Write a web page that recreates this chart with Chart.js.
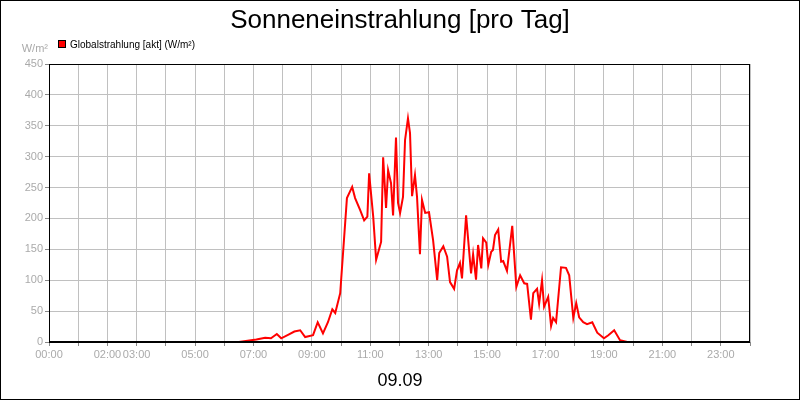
<!DOCTYPE html>
<html><head><meta charset="utf-8">
<script src="https://cdn.jsdelivr.net/npm/chart.js@4"></script>
<style>html,body{margin:0;padding:0;background:#fff}#w{width:800px;height:400px;position:relative;box-sizing:border-box}</style>
</head><body><div id="w"><canvas id="c"></canvas></div>
<script>
const hours = [0,6.5,6.8,7.1,7.4,7.6,7.8,7.95,8.2,8.4,8.6,8.77,9.04,9.2,9.38,9.55,9.7,9.8,9.97,10.2,10.38,10.48,10.65,10.79,10.9,10.96,11.1,11.2,11.37,11.44,11.54,11.61,11.71,11.78,11.88,11.95,12.02,12.12,12.19,12.29,12.36,12.43,12.53,12.6,12.7,12.77,12.88,13.01,13.15,13.29,13.36,13.5,13.63,13.73,13.87,13.97,14.07,14.14,14.28,14.45,14.52,14.62,14.69,14.8,14.86,14.97,15.04,15.14,15.2,15.27,15.38,15.48,15.55,15.68,15.86,16.0,16.13,16.27,16.37,16.5,16.58,16.71,16.78,16.88,16.95,17.09,17.19,17.26,17.36,17.53,17.7,17.81,17.95,18.05,18.15,18.29,18.42,18.6,18.77,19.0,19.15,19.35,19.55,19.8,24];
const values = [0,0,2,4,7,6,13,6,12,17,19,8,11,32,14,32,53,47,79,233,251,233,214,197,203,273,203,133,162,299,217,278,257,205,331,225,209,235,327,362,338,236,270,235,142,230,209,210,165,100,144,155,138,97,86,116,128,103,205,111,142,101,157,119,168,161,125,146,149,173,182,130,131,115,188,89,108,95,94,36,79,86,62,100,57,73,26,39,32,121,120,108,39,63,40,32,29,32,15,6,11,19,3,0,0];
const yTicks = [0,50,100,150,200,250,300,350,400,450];
const xLabelHours = [0,2,3,5,7,9,11,13,15,17,19,21,23];
const titleText = 'Sonneneinstrahlung [pro Tag]';
const seriesName = 'Globalstrahlung [akt] (W/m²)';
const unitText = 'W/m²';
const dateText = '09.09';
const FONT = '"Liberation Sans", Arial, sans-serif';

const deco = {
  id:'deco',
  afterDraw(ch){
    const c=ch.ctx, a=ch.chartArea;
    c.save();
    c.strokeStyle='#000'; c.lineWidth=1;
    c.strokeRect(a.left+0.5,a.top+0.5,a.right-a.left-1,a.bottom-a.top);
    c.lineWidth=2; c.beginPath(); c.moveTo(a.left,a.bottom); c.lineTo(a.right,a.bottom); c.stroke();
    c.lineWidth=1; c.strokeRect(0.5,0.5,799,399);
    c.fillStyle='#000'; c.textAlign='center'; c.textBaseline='alphabetic';
    c.font='26px '+FONT; c.fillText(titleText,400,28);
    c.font='18px '+FONT; c.fillText(dateText,400,386);
    c.fillStyle='#f00'; c.fillRect(58,40,8,8); c.strokeStyle='#000'; c.strokeRect(58.5,40.5,7,7);
    c.fillStyle='#000'; c.textAlign='left'; c.font='10px '+FONT; c.fillText(seriesName,70,48);
    c.fillStyle='#aaa'; c.font='11px '+FONT; c.textAlign='right'; c.fillText(unitText,48,52);
    c.restore();
  }
};

new Chart(document.getElementById('c'),{
  type:'line',
  data:{datasets:[{data:hours.map((h,i)=>({x:h,y:values[i]})),borderColor:'#f00',borderWidth:2,pointRadius:0,tension:0,fill:false}]},
  options:{
    responsive:true,maintainAspectRatio:false,animation:false,
    layout:{padding:{top:64,right:50,left:0,bottom:0}},
    plugins:{legend:{display:false},title:{display:false},tooltip:{enabled:false}},
    scales:{
      x:{type:'linear',min:0,max:24,
        afterBuildTicks(s){s.ticks=[];for(let h=0;h<=24;h++)s.ticks.push({value:h});},
        afterFit(s){s.height=58;},
        grid:{color:'#c0c0c0',tickLength:4,tickColor:'#888'},border:{display:false},
        ticks:{color:'#aaa',font:{family:FONT,size:11},maxRotation:0,autoSkip:false,padding:2,
          callback:v=>xLabelHours.includes(v)?String(v).padStart(2,'0')+':00':''}},
      y:{min:0,max:450,
        afterBuildTicks(s){s.ticks=yTicks.map(v=>({value:v}));},
        afterFit(s){s.width=49;},
        grid:{color:'#c0c0c0',tickLength:4,tickColor:'#888'},border:{display:false},
        ticks:{color:'#aaa',font:{family:FONT,size:11},padding:2}}
    }
  },
  plugins:[deco]
});
</script></body></html>
